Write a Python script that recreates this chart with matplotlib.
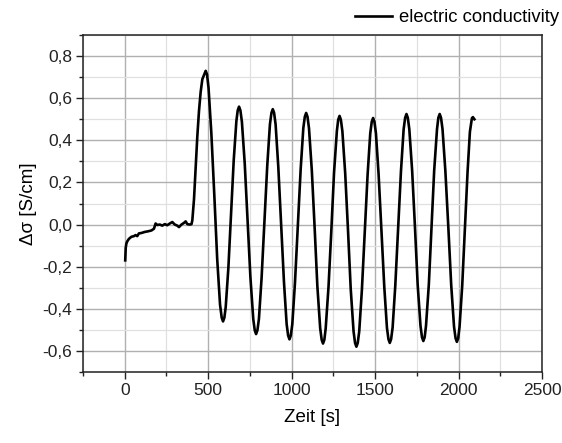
import matplotlib
matplotlib.use("Agg")
import matplotlib.pyplot as plt
from matplotlib.ticker import MultipleLocator, FuncFormatter

plt.rcParams['font.family'] = ['Liberation Sans', 'DejaVu Sans']
plt.rcParams['axes.unicode_minus'] = False

# time [s] and delta sigma [S/cm]
time_s = [3, 6, 10, 15, 25, 40, 55, 65, 75, 85, 100, 120, 140, 160, 175, 185, 195,
          210, 225, 240, 255, 270, 285, 300, 315, 325, 340, 355, 365, 375, 390, 400,
          405, 415, 425, 435, 445, 455, 465, 477, 485, 493,
          502, 519, 537, 554, 571, 581, 589, 597,
          605, 621, 637, 653, 669, 677, 685, 693,
          702, 719, 736, 753, 770, 779, 787, 795,
          804, 820, 837, 854, 870, 879, 887, 895,
          904, 920, 937, 954, 970, 979, 987, 995,
          1004, 1020, 1037, 1054, 1070, 1079, 1087, 1095,
          1104, 1121, 1138, 1154, 1171, 1180, 1188, 1196,
          1204, 1221, 1238, 1254, 1271, 1279, 1287, 1295,
          1304, 1321, 1338, 1354, 1371, 1380, 1388, 1396,
          1405, 1421, 1438, 1455, 1471, 1480, 1488, 1496,
          1505, 1521, 1538, 1555, 1571, 1580, 1588, 1596,
          1605, 1621, 1638, 1655, 1671, 1680, 1688, 1696,
          1705, 1722, 1739, 1755, 1772, 1781, 1789, 1797,
          1805, 1822, 1838, 1854, 1871, 1879, 1887, 1895,
          1904, 1921, 1939, 1956, 1973, 1982, 1990, 1998,
          2006, 2022, 2038, 2054, 2068, 2080, 2086, 2095]
delta_sigma = [-0.17, -0.11, -0.09, -0.08, -0.068, -0.058, -0.055, -0.05, -0.055, -0.042, -0.04,
               -0.035, -0.032, -0.028, -0.02, 0.005, -0.002,
               0.0, -0.005, 0.002, -0.003, 0.005, 0.012, 0.0, -0.005, -0.012, 0.0, 0.008,
               0.015, 0.002, 0.0, 0.002,
               0.02, 0.12, 0.27, 0.42, 0.54, 0.63, 0.69, 0.714, 0.73, 0.713,
               0.65, 0.433, 0.135, -0.163, -0.38, -0.442, -0.46, -0.442,
               -0.392, -0.205, 0.05, 0.305, 0.492, 0.542, 0.56, 0.542,
               0.488, 0.29, 0.02, -0.25, -0.448, -0.502, -0.52, -0.502,
               -0.448, -0.253, 0.014, 0.281, 0.476, 0.53, 0.548, 0.53,
               0.475, 0.275, 0.0, -0.272, -0.472, -0.527, -0.545, -0.527,
               -0.473, -0.276, -0.008, 0.261, 0.458, 0.512, 0.53, 0.512,
               0.457, 0.256, -0.018, -0.291, -0.492, -0.547, -0.565, -0.547,
               -0.493, -0.295, -0.025, 0.246, 0.444, 0.498, 0.516, 0.498,
               0.443, 0.242, -0.032, -0.306, -0.507, -0.562, -0.58, -0.562,
               -0.507, -0.309, -0.037, 0.235, 0.433, 0.488, 0.506, 0.488,
               0.434, 0.239, -0.028, -0.295, -0.49, -0.544, -0.562, -0.544,
               -0.489, -0.29, -0.019, 0.253, 0.452, 0.507, 0.525, 0.507,
               0.453, 0.256, -0.014, -0.284, -0.481, -0.535, -0.553, -0.535,
               -0.481, -0.284, -0.014, 0.256, 0.453, 0.507, 0.525, 0.507,
               0.453, 0.255, -0.016, -0.287, -0.485, -0.539, -0.557, -0.539,
               -0.485, -0.29, -0.02, 0.25, 0.44, 0.505, 0.51, 0.50]

x_ticks = [0, 500, 1000, 1500, 2000, 2500]
y_ticks = [-0.6, -0.4, -0.2, 0.0, 0.2, 0.4, 0.6, 0.8]

fig = plt.figure(figsize=(5.62, 4.43), dpi=100)
ax = fig.add_axes([83/562, 1-372/443, (542-83)/562, (372-35)/443])

ax.plot(time_s, delta_sigma, color='black', lw=1.9, label='electric conductivity',
        solid_joinstyle='round', zorder=3)

ax.set_xlim(-250, 2500)
ax.set_ylim(-0.7, 0.9)
ax.set_xticks(x_ticks)
ax.set_yticks(y_ticks)
ax.xaxis.set_minor_locator(MultipleLocator(250))
ax.yaxis.set_minor_locator(MultipleLocator(0.1))
ax.yaxis.set_major_formatter(FuncFormatter(lambda v, p: f"{v:.1f}".replace('.', ',').replace('-0,0', '0,0')))

ax.grid(which='major', color='#b0b0b0', lw=1.0, zorder=0)
ax.grid(which='minor', color='#e0e0e0', lw=0.9, zorder=0)
ax.set_axisbelow(True)

for s in ax.spines.values():
    s.set_linewidth(1.1)
    s.set_color('#222222')

ax.tick_params(which='major', direction='out', length=5, width=1.0, labelsize=12.5,
               colors='#222222', pad=3)
ax.tick_params(which='minor', direction='out', length=3, width=1.0, colors='#222222')
ax.tick_params(top=False, right=False, which='both')

ax.set_xlabel('Zeit [s]', fontsize=13.5, labelpad=8)
ax.set_ylabel('Δσ [S/cm]', fontsize=13.5, labelpad=4)

fig.legend(loc='center right', bbox_to_anchor=(559/562, 1-18/443), frameon=False,
           fontsize=13.3, handlelength=2.0, handletextpad=0.35, borderpad=0,
           borderaxespad=0)

fig.savefig('out.png', dpi=100)
